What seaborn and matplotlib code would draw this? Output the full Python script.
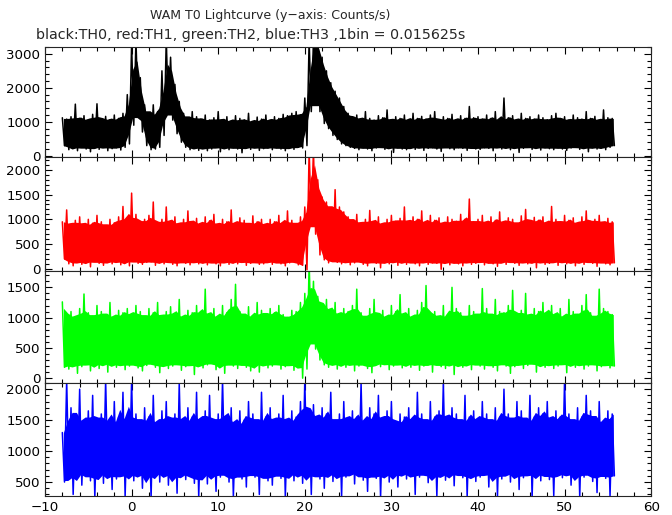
import numpy as np
import pandas as pd
import matplotlib
matplotlib.use("Agg")
import matplotlib.pyplot as plt
from matplotlib.ticker import MultipleLocator
import seaborn as sns

# light curve envelopes, one value per 0.5 s (t = -8 ... 55.5)
# hi = top of the spikes in that slot, lo = bottom of the spikes
t_start = -8.0
t_step = 0.5

th0_hi = [1120, 1080, 1150, 1520, 1100, 1180, 1050, 1220, 1530, 1090, 1160, 1060, 1200, 1100, 1250, 1800,
          3300, 3400, 2300, 1500, 1150, 1500, 1300, 2500, 3400, 2900, 2100, 1600, 1250, 1100, 1300, 1150,
          1080, 1200, 1050, 1120, 1300, 1060, 1150, 1020, 1180, 1100, 1060, 1250, 1000, 1140, 1080, 1200,
          1050, 1150, 1100, 1220, 1180, 1250, 1300, 1200, 1700, 3400, 3400, 3400, 2900, 2500, 2150, 1900,
          1700, 1450, 1250, 1150, 1200, 1080, 1300, 1100, 1050, 1180, 1120, 1350, 1060, 1150, 1100, 1200,
          1050, 1250, 1100, 1160, 1080, 1200, 1300, 1050, 1150, 1100, 1220, 1060, 1180, 1100, 1450, 1120,
          1150, 1080, 1200, 1100, 1300, 1060, 1700, 1120, 1180, 1050, 1250, 1100, 1150, 1080, 1200, 1120,
          1060, 1180, 1250, 1100, 1150, 1050, 1200, 1120, 1080, 1300, 1100, 1160, 1050, 1350, 1120, 1100]
th0_lo = [300, 180, 220, 150, 250, 200, 120, 230, 190, 260, 150, 210, 240, 170, 250, 350,
          900, 1350, 700, 300, 180, 200, 250, 600, 1350, 1050, 650, 400, 250, 180, 220, 160,
          230, 150, 200, 250, 120, 220, 180, 240, 200, 90, 230, 190, 250, 160, 210, 230,
          180, 240, 200, 150, 230, 190, 250, 230, 300, 1300, 1650, 1300, 950, 800, 600, 480,
          350, 300, 250, 220, 180, 240, 200, 150, 230, 250, 190, 220, 100, 240, 200, 180,
          230, 190, 250, 160, 220, 240, 200, 130, 250, 210, 180, 240, 220, 160, 230, 200,
          190, 240, 220, 150, 250, 200, 230, 180, 240, 100, 220, 250, 190, 230, 170, 240,
          210, 180, 240, 200, 160, 230, 250, 190, 220, 120, 240, 200, 230, 180, 250, 300]

th1_hi = [950, 1190, 900, 980, 1050, 880, 1000, 920, 1080, 950, 870, 1000, 930, 1050, 1260, 980,
          1530, 1100, 950, 1000, 1080, 1350, 920, 1000, 1250, 960, 1050, 900, 1000, 1170, 950, 1020,
          900, 1050, 970, 1100, 880, 1000, 950, 1190, 920, 1030, 980, 900, 1070, 950, 1000, 880,
          1000, 950, 1080, 920, 1170, 980, 900, 1050, 1250, 2400, 2400, 1800, 1450, 1350, 1200, 1600,
          1250, 1150, 1050, 980, 1100, 920, 1000, 1180, 950, 1050, 900, 1000, 1080, 960, 1020, 1250,
          950, 1050, 1000, 1170, 920, 1080, 980, 1030, 900, 1050, 1000, 960, 1100, 1000, 1410, 950,
          1000, 1080, 920, 1050, 980, 1150, 950, 1030, 1000, 900, 1070, 1200, 960, 1040, 980, 1050,
          920, 1260, 1000, 950, 1080, 980, 1030, 900, 1050, 1170, 960, 1000, 1080, 930, 1020, 950]
th1_lo = [200, 100, 60, 140, 90, 120, 40, 150, 110, 70, 130, 100, 150, 80, 120, 60,
          160, 110, 90, 130, 140, 70, 120, 100, 150, 90, 60, 130, 110, 80, 140, 100,
          120, 80, 130, 100, 60, 140, 90, 120, 100, 150, 70, 110, 130, 90, 100, 140,
          90, 130, 100, 60, 120, 140, 80, 70, -20, 1000, 700, 280, 180, 120, 150, 130,
          100, 140, 80, 120, 150, 90, 60, 130, 110, 20, 120, 100, 140, 70, 130, 90,
          130, 100, 60, 140, 90, 120, 110, -10, 130, 80, 120, 100, 60, 140, 90, 110,
          140, 80, 120, 100, 50, 130, 90, 140, 110, 70, 130, 100, 120, 20, 140, 90,
          110, 130, 70, 140, 100, 120, 60, 130, 90, 140, 110, 50, 130, 100, 80, 120]

th2_hi = [1260, 1050, 1100, 1000, 1150, 1390, 1080, 1020, 1200, 1100, 1050, 1250, 1000, 1120, 1080, 1150,
          1050, 1200, 1100, 1000, 1150, 1080, 1250, 1020, 1100, 1180, 1050, 1300, 1000, 1120, 1080, 1200,
          1100, 1470, 1050, 1150, 1000, 1200, 1080, 1300, 1550, 1100, 1050, 1180, 1000, 1250, 1120, 1050,
          1150, 1080, 1200, 1050, 1000, 1120, 1100, 1250, 1400, 1900, 1600, 1350, 1200, 1300, 1100, 1250,
          1050, 1150, 1100, 1200, 1470, 1080, 1000, 1150, 1300, 1050, 1120, 1000, 1200, 1100, 1380, 1050,
          1150, 1000, 1120, 1250, 1530, 1080, 1100, 1000, 1200, 1050, 1500, 1150, 1080, 1000, 1200, 1100,
          1050, 1480, 1150, 1000, 1300, 1100, 1080, 1200, 1450, 1050, 1120, 1400, 1000, 1150, 1100, 1250,
          1080, 1200, 1050, 1150, 1000, 1300, 1100, 1050, 1200, 1380, 1080, 1000, 1470, 1150, 1100, 1050]
th2_lo = [180, 150, 220, 80, 190, 240, 120, 200, 160, 250, 100, 210, 180, 230, 140, 200,
          230, 170, 120, 210, 250, 180, 90, 220, 160, 200, 240, 130, 190, 220, 60, 200,
          170, 220, 250, 140, 190, 80, 230, 200, 160, 240, 180, 120, 210, 100, 230, 170,
          200, 240, 150, 190, 220, 130, 200, 0, 150, 650, 480, 300, 220, 180, 240, 150,
          210, 180, 240, 120, 200, 230, 160, 90, 220, 190, 250, 140, 200, 230, 170, 210,
          180, 240, 130, 200, 220, 100, 230, 190, 160, 240, 60, 200, 180, 220, 140, 230,
          200, 150, 230, 180, 120, 240, 200, 80, 190, 230, 160, 210, 250, 100, 200, 180,
          230, 160, 200, 240, 90, 210, 180, 230, 150, 200, 240, 120, 190, 220, 170, 200]

th3_hi = [1300, 2150, 1700, 1550, 2000, 1450, 1650, 1900, 1500, 1600, 2150, 1400, 1800, 1550, 1950, 1500,
          2150, 1600, 1450, 1700, 1550, 1900, 1400, 1650, 1800, 1500, 1600, 2100, 1450, 1700, 1550, 1950,
          1500, 1650, 1900, 1450, 1600, 2150, 1550, 1700, 1400, 1650, 1500, 1800, 1600, 1450, 1950, 1550,
          1700, 1500, 1600, 1900, 1450, 1650, 1550, 1800, 2150, 1650, 1750, 1500, 1700, 1600, 1950, 1450,
          1600, 1800, 1500, 1650, 1550, 2100, 1450, 1700, 1600, 1900, 1500, 1650, 1800, 1400, 1600, 1550,
          1700, 1500, 1950, 1600, 1450, 1800, 1550, 1650, 2100, 1500, 1700, 1600, 1450, 1900, 1550, 1650,
          1500, 1800, 1600, 1450, 1700, 1550, 2000, 1600, 1500, 1800, 1650, 1450, 1900, 1550, 1700, 1600,
          1800, 1500, 1650, 1550, 2150, 1600, 1450, 1700, 1550, 1900, 1650, 1500, 1800, 1450, 1650, 1600]
th3_lo = [500, 550, 300, 600, 450, 650, 520, 250, 600, 480, 630, 380, 550, 620, 270, 580,
          520, 640, 400, 580, 250, 610, 500, 650, 450, 560, 320, 600, 540, 630, 480, 260,
          600, 470, 620, 350, 580, 640, 500, 270, 610, 550, 420, 630, 580, 300, 600, 520,
          450, 630, 560, 260, 600, 520, 640, 480, 580, 300, 620, 550, 400, 640, 510, 600,
          260, 580, 620, 470, 640, 530, 350, 600, 560, 250, 630, 500, 590, 420, 640, 550,
          610, 300, 580, 640, 490, 560, 270, 620, 530, 600, 440, 640, 570, 260, 600, 510,
          580, 630, 420, 600, 270, 550, 640, 500, 610, 380, 570, 630, 250, 590, 520, 640,
          540, 280, 610, 570, 630, 450, 600, 260, 580, 640, 510, 330, 620, 560, 270, 600]

series = [
    (th0_hi, th0_lo, "black", (-35, 3200), 1000, 200),
    (th1_hi, th1_lo, "#ff0000", (-45, 2260), 500, 100),
    (th2_hi, th2_lo, "#00ff00", (-80, 1770), 500, 100),
    (th3_hi, th3_lo, "#0000ff", (275, 2100), 500, 100),
]

sns.set_style("ticks")
plt.rcParams["font.family"] = ["DejaVu Sans"]
plt.rcParams["axes.linewidth"] = 0.8

fig = plt.figure(figsize=(6.72, 5.15), dpi=100)
gs = fig.add_gridspec(4, 1, left=0.067, right=0.969, top=0.9087, bottom=0.0369,
                      hspace=0, height_ratios=[110, 114, 112, 113])
axes = [fig.add_subplot(gs[i]) for i in range(4)]

for ax, (hi, lo, col, ylim, major, minor) in zip(axes, series):
    hi = np.asarray(hi, float)
    lo = np.asarray(lo, float)
    t = t_start + t_step * np.arange(len(hi))
    # the curve itself: top of each slot, then its bottom a quarter step later
    curve = pd.DataFrame({
        "t": np.column_stack([t, t + t_step / 2]).ravel(),
        "rate": np.column_stack([hi, lo]).ravel(),
    })
    # dense core between the spikes, from each slot and its two neighbours
    hi3 = np.sort(np.column_stack([np.r_[hi[0], hi[:-1]], hi, np.r_[hi[1:], hi[-1]]]), axis=1)
    lo3 = np.sort(np.column_stack([np.r_[lo[0], lo[:-1]], lo, np.r_[lo[1:], lo[-1]]]), axis=1)
    top = 0.5 * (hi3[:, 0] + hi3[:, 1])
    bot = 0.5 * (lo3[:, 2] + lo3[:, 1])
    ax.fill_between(t + t_step / 4, bot, top, color=col, lw=0)
    sns.lineplot(data=curve, x="t", y="rate", color=col, lw=1.1, sort=False,
                 estimator=None, ax=ax)

    ax.set_xlim(-10, 60)
    ax.set_ylim(*ylim)
    ax.xaxis.set_major_locator(MultipleLocator(10))
    ax.xaxis.set_minor_locator(MultipleLocator(2))
    ax.yaxis.set_major_locator(MultipleLocator(major))
    ax.yaxis.set_minor_locator(MultipleLocator(minor))
    ax.tick_params(which="both", direction="in", top=True, right=True, width=0.8,
                   labelsize=9.6, colors="black")
    ax.tick_params(which="major", length=5)
    ax.tick_params(which="minor", length=2.8)
    ax.set_xlabel("")
    ax.set_ylabel("")
    if ax is not axes[-1]:
        ax.tick_params(labelbottom=False)

fig.text(0.402, 0.969, "WAM T0 Lightcurve (y\u2212axis: Counts/s)", ha="center", va="center",
         fontsize=9)
fig.text(0.054, 0.932, "black:TH0, red:TH1, green:TH2, blue:TH3 ,1bin = 0.015625s",
         ha="left", va="center", fontsize=10.3)

fig.savefig("out.png", dpi=100)
